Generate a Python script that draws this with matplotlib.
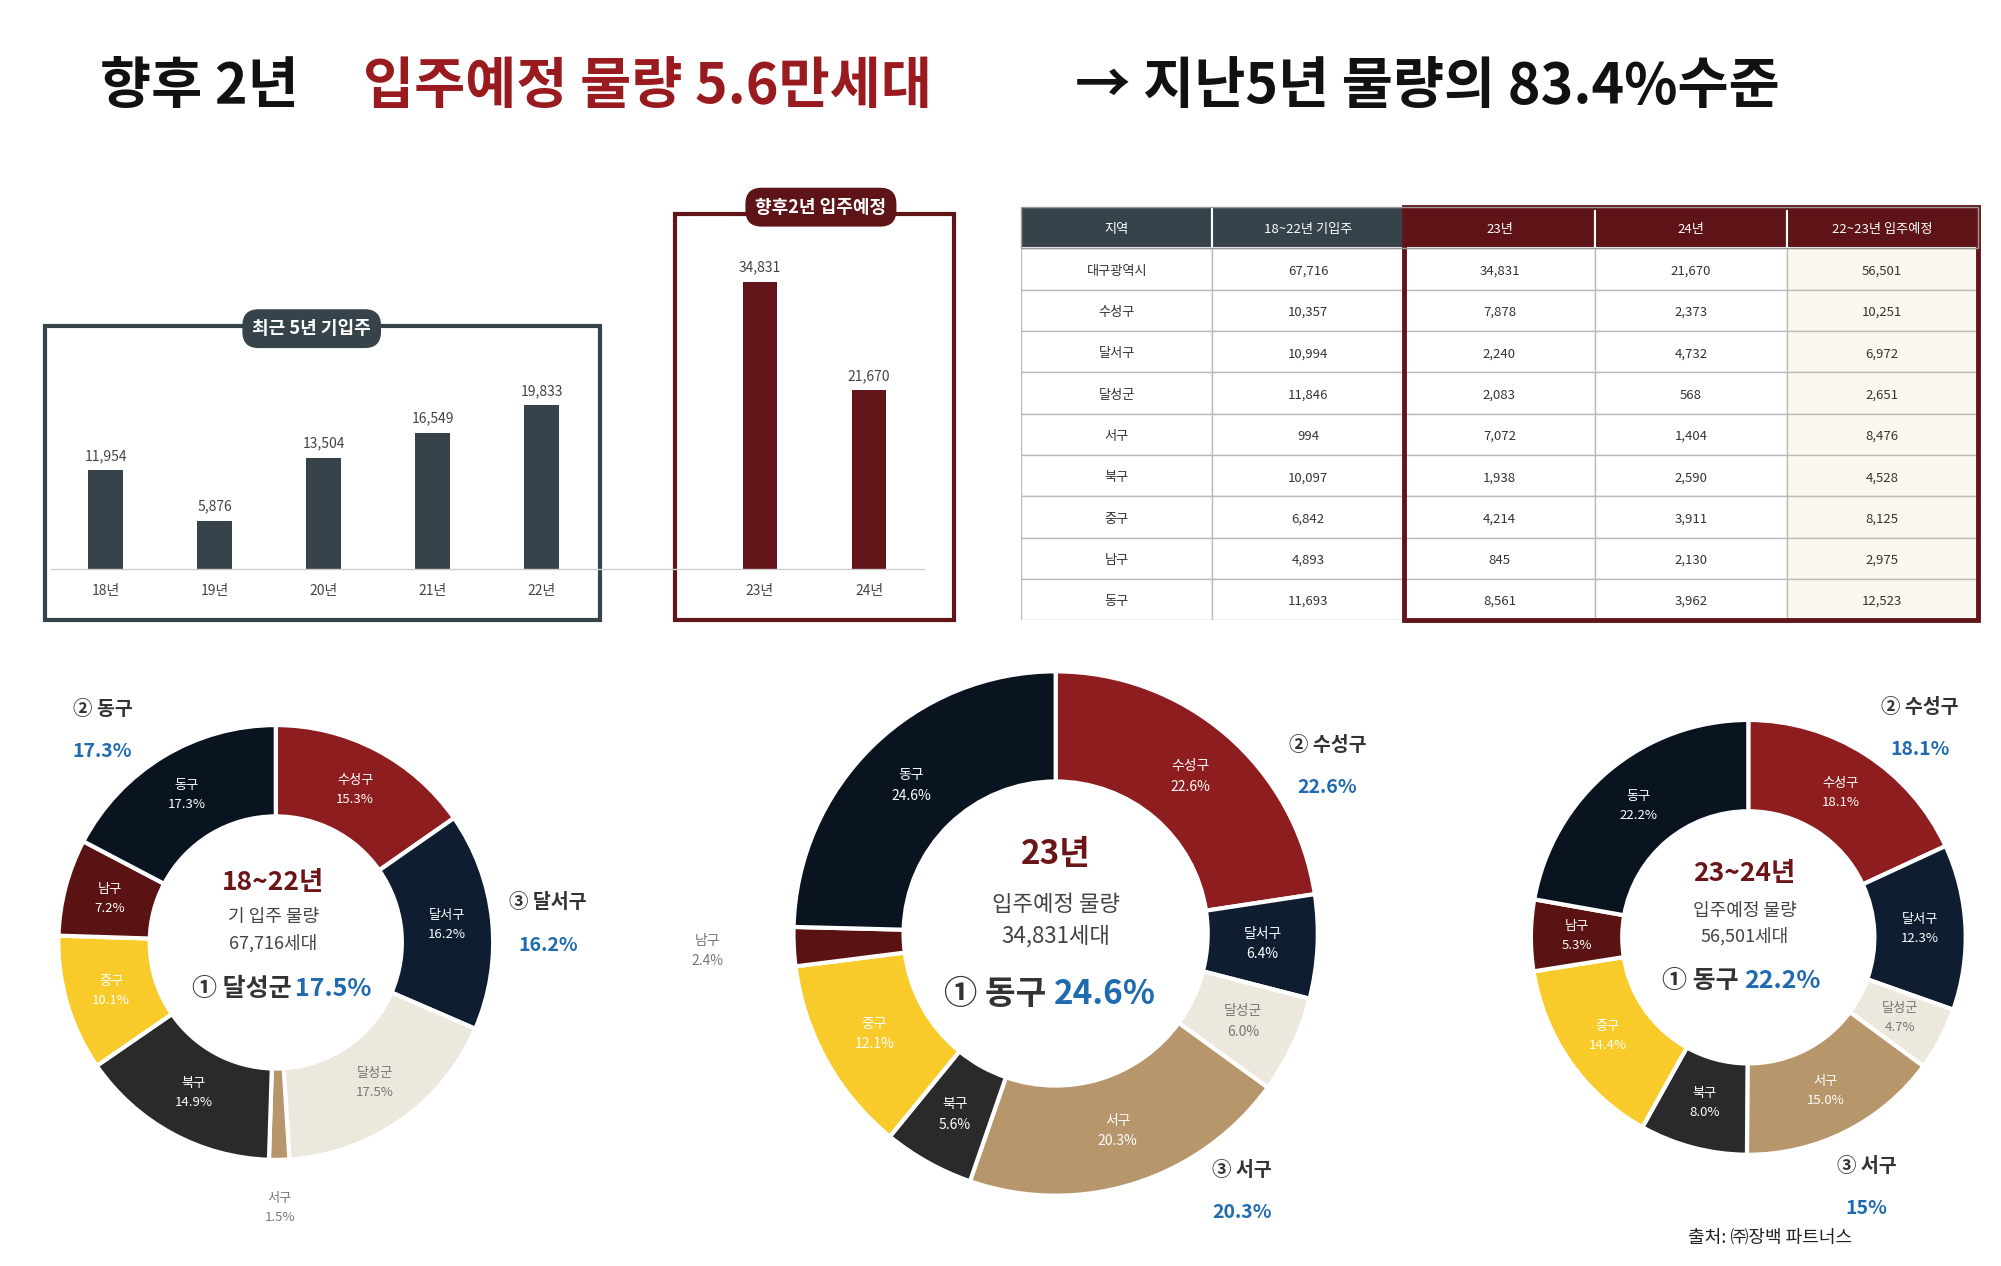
import matplotlib
matplotlib.use("Agg")
import matplotlib.pyplot as plt
from matplotlib.patches import Rectangle
from matplotlib.lines import Line2D

plt.rcParams["font.family"] = "Noto Sans CJK KR"

# ---- data ----
past_years = ["18년", "19년", "20년", "21년", "22년"]
past_values = [11954, 5876, 13504, 16549, 19833]
future_years = ["23년", "24년"]
future_values = [34831, 21670]

table_header = ["지역", "18~22년 기입주", "23년", "24년", "22~23년 입주예정"]
table_regions = ["대구광역시", "수성구", "달서구", "달성군", "서구", "북구", "중구", "남구", "동구"]
col_past = [67716, 10357, 10994, 11846, 994, 10097, 6842, 4893, 11693]
col_23 = [34831, 7878, 2240, 2083, 7072, 1938, 4214, 845, 8561]
col_24 = [21670, 2373, 4732, 568, 1404, 2590, 3911, 2130, 3962]
col_sum = [56501, 10251, 6972, 2651, 8476, 4528, 8125, 2975, 12523]

donut_names = ["수성구", "달서구", "달성군", "서구", "북구", "중구", "남구", "동구"]
share_18_22 = [15.3, 16.2, 17.5, 1.5, 14.9, 10.1, 7.2, 17.3]
share_23 = [22.6, 6.4, 6.0, 20.3, 5.6, 12.1, 2.4, 24.6]
share_23_24 = [18.1, 12.3, 4.7, 15.0, 8.0, 14.4, 5.3, 22.2]
donut_colors = ["#8E1D1F", "#0F1D31", "#EDE8DE", "#B8966C", "#2A2A2A", "#F8CB2A", "#5A1212", "#0A1421"]

SLATE = "#37434A"
MAROON = "#5E1416"
BAR_RED = "#621518"
BLUE = "#1F6BB0"

W, H = 1560.0, 990.0  # reference layout units


def fx(x):
    return x / W


def fy(y):
    return 1 - y / H


fig = plt.figure(figsize=(20.01, 12.66), dpi=100)


def ftext(x, y, s, **kw):
    fig.text(fx(x), fy(y), s, **kw)


# ---- title ----
fig.text(fx(78), fy(68), "향후 2년 ", fontsize=40, fontweight="bold", color="#111", va="center")
fig.text(fx(283), fy(68), "입주예정 물량 5.6만세대", fontsize=40, fontweight="bold", color="#9A1B1F", va="center")
fig.text(fx(838), fy(68), "→ 지난5년 물량의 83.4%수준", fontsize=40, fontweight="bold", color="#111", va="center")

# ---- boxes ----
fig.patches.append(Rectangle((fx(35), fy(485)), fx(433), (485 - 255) / H, transform=fig.transFigure,
                             fill=False, edgecolor=SLATE, lw=3))
fig.patches.append(Rectangle((fx(526), fy(485)), fx(218), (485 - 167) / H, transform=fig.transFigure,
                             fill=False, edgecolor=BAR_RED, lw=3))
fig.add_artist(Line2D([fx(40), fx(720)], [fy(445), fy(445)], transform=fig.transFigure, color="#CCCCCC", lw=1))
ftext(243, 257, "최근 5년 기입주", fontsize=13, fontweight="bold", color="white", ha="center", va="center",
      bbox=dict(boxstyle="round,pad=0.55,rounding_size=0.9", fc=SLATE, ec="none"))
ftext(640, 162, "향후2년 입주예정", fontsize=13, fontweight="bold", color="white", ha="center", va="center",
      bbox=dict(boxstyle="round,pad=0.55,rounding_size=0.9", fc=MAROON, ec="none"))


def bar_axes(x0, x1, values, labels, color):
    ax = fig.add_axes([fx(x0), fy(445), fx(x1 - x0), (445 - 187) / H])
    xs = range(len(values))
    ax.bar(xs, values, width=0.32, color=color)
    ax.set_xlim(-0.5, len(values) - 0.5)
    ax.set_ylim(0, 40000)
    ax.axis("off")
    for x, v, l in zip(xs, values, labels):
        ax.text(x, v + 900, f"{v:,}", ha="center", va="bottom", fontsize=10, color="#444")
        ax.text(x, -1800, l, ha="center", va="top", fontsize=10, color="#444")


bar_axes(40, 465, past_values, past_years, SLATE)
bar_axes(550, 720, future_values, future_years, BAR_RED)

# ---- table ----
tax = fig.add_axes([fx(796), fy(485), fx(746), (485 - 162) / H])
tax.set_xlim(0, 5)
nrow = len(table_regions)
tax.set_ylim(nrow + 1, 0)
tax.axis("off")
for c, h in enumerate(table_header):
    tax.add_patch(Rectangle((c, 0), 1, 1, fc=SLATE if c < 2 else MAROON, ec="white", lw=1.5))
    tax.text(c + 0.5, 0.55, h, ha="center", va="center", color="white", fontsize=9.5)
columns = [table_regions, col_past, col_23, col_24, col_sum]
for r in range(nrow):
    for c, col in enumerate(columns):
        v = col[r]
        s = v if isinstance(v, str) else f"{v:,}"
        tax.add_patch(Rectangle((c, r + 1), 1, 1, fc="#FBF8EF" if c == 4 else "white", ec="#BBBBBB", lw=1))
        tax.text(c + 0.5, r + 1.55, s, ha="center", va="center", fontsize=9.5, color="#333")
tax.add_patch(Rectangle((2, 0), 3, nrow + 1, fill=False, ec=BAR_RED, lw=3.5, clip_on=False))
tax.add_patch(Rectangle((0, 0), 5, 1, fill=False, ec="#999", lw=1, clip_on=False))


# ---- donuts ----
def donut(cx, cy, r, shares, small_fs, outside):
    ax = fig.add_axes([fx(cx - r), fy(cy + r), fx(2 * r), 2 * r / H])
    wedges, _ = ax.pie(shares, colors=donut_colors, startangle=90, counterclock=False,
                       wedgeprops=dict(width=0.42, edgecolor="white", linewidth=3))
    ax.set_xlim(-1, 1)
    ax.set_ylim(-1, 1)
    import numpy as np
    for w, name, s in zip(wedges, donut_names, shares):
        ang = np.deg2rad((w.theta1 + w.theta2) / 2)
        if name in outside:
            rr = outside[name]
            ax.text(rr * np.cos(ang), rr * np.sin(ang), f"{name}\n{s}%", ha="center", va="center",
                    fontsize=small_fs, color="#777", linespacing=1.6, clip_on=False)
            continue
        col = "#777" if name == "달성군" else "white"
        ax.text(0.79 * np.cos(ang), 0.79 * np.sin(ang), f"{name}\n{s}%", ha="center", va="center",
                fontsize=small_fs, color=col, linespacing=1.6)
    return ax


donut(215, 737, 170, share_18_22, 9.5, {"서구": 1.22})
donut(823, 730, 205, share_23, 10, {"남구": 1.33})
donut(1363, 733, 170, share_23_24, 9.5, {})

DARKRED = "#6B1518"
# left center
ftext(213, 690, "18~22년", fontsize=19, fontweight="bold", color=DARKRED, ha="center", va="center")
ftext(213, 717, "기 입주 물량", fontsize=13, color="#444", ha="center", va="center")
ftext(213, 738, "67,716세대", fontsize=13, color="#444", ha="center", va="center")
ftext(232, 773, "① 달성군 ", fontsize=18, fontweight="bold", color="#333", ha="right", va="center")
ftext(230, 773, "17.5%", fontsize=18, fontweight="bold", color=BLUE, ha="left", va="center")
# middle center
ftext(823, 668, "23년", fontsize=24, fontweight="bold", color=DARKRED, ha="center", va="center")
ftext(823, 707, "입주예정 물량", fontsize=16, color="#444", ha="center", va="center")
ftext(823, 732, "34,831세대", fontsize=16, color="#444", ha="center", va="center")
ftext(822, 778, "① 동구 ", fontsize=24, fontweight="bold", color="#333", ha="right", va="center")
ftext(822, 778, "24.6%", fontsize=24, fontweight="bold", color=BLUE, ha="left", va="center")
# right center
ftext(1360, 683, "23~24년", fontsize=19, fontweight="bold", color=DARKRED, ha="center", va="center")
ftext(1360, 712, "입주예정 물량", fontsize=13, color="#444", ha="center", va="center")
ftext(1360, 732, "56,501세대", fontsize=13, color="#444", ha="center", va="center")
ftext(1360, 767, "① 동구 ", fontsize=18, fontweight="bold", color="#333", ha="right", va="center")
ftext(1360, 767, "22.2%", fontsize=18, fontweight="bold", color=BLUE, ha="left", va="center")

# callouts
callouts = [
    (80, 555, "② 동구", "17.3%"),
    (427, 706, "③ 달서구", "16.2%"),
    (1035, 583, "② 수성구", "22.6%"),
    (968, 915, "③ 서구", "20.3%"),
    (1497, 553, "② 수성구", "18.1%"),
    (1455, 912, "③ 서구", "15%"),
]
for x, y, a, b in callouts:
    ftext(x, y, a, fontsize=14, fontweight="bold", color="#333", ha="center", va="center")
    ftext(x, y + 33, b, fontsize=14, fontweight="bold", color=BLUE, ha="center", va="center")

ftext(1380, 968, "출처: ㈜장백 파트너스", fontsize=13, color="#222", ha="center", va="center")

fig.savefig("out.png", dpi=100, facecolor="white")
